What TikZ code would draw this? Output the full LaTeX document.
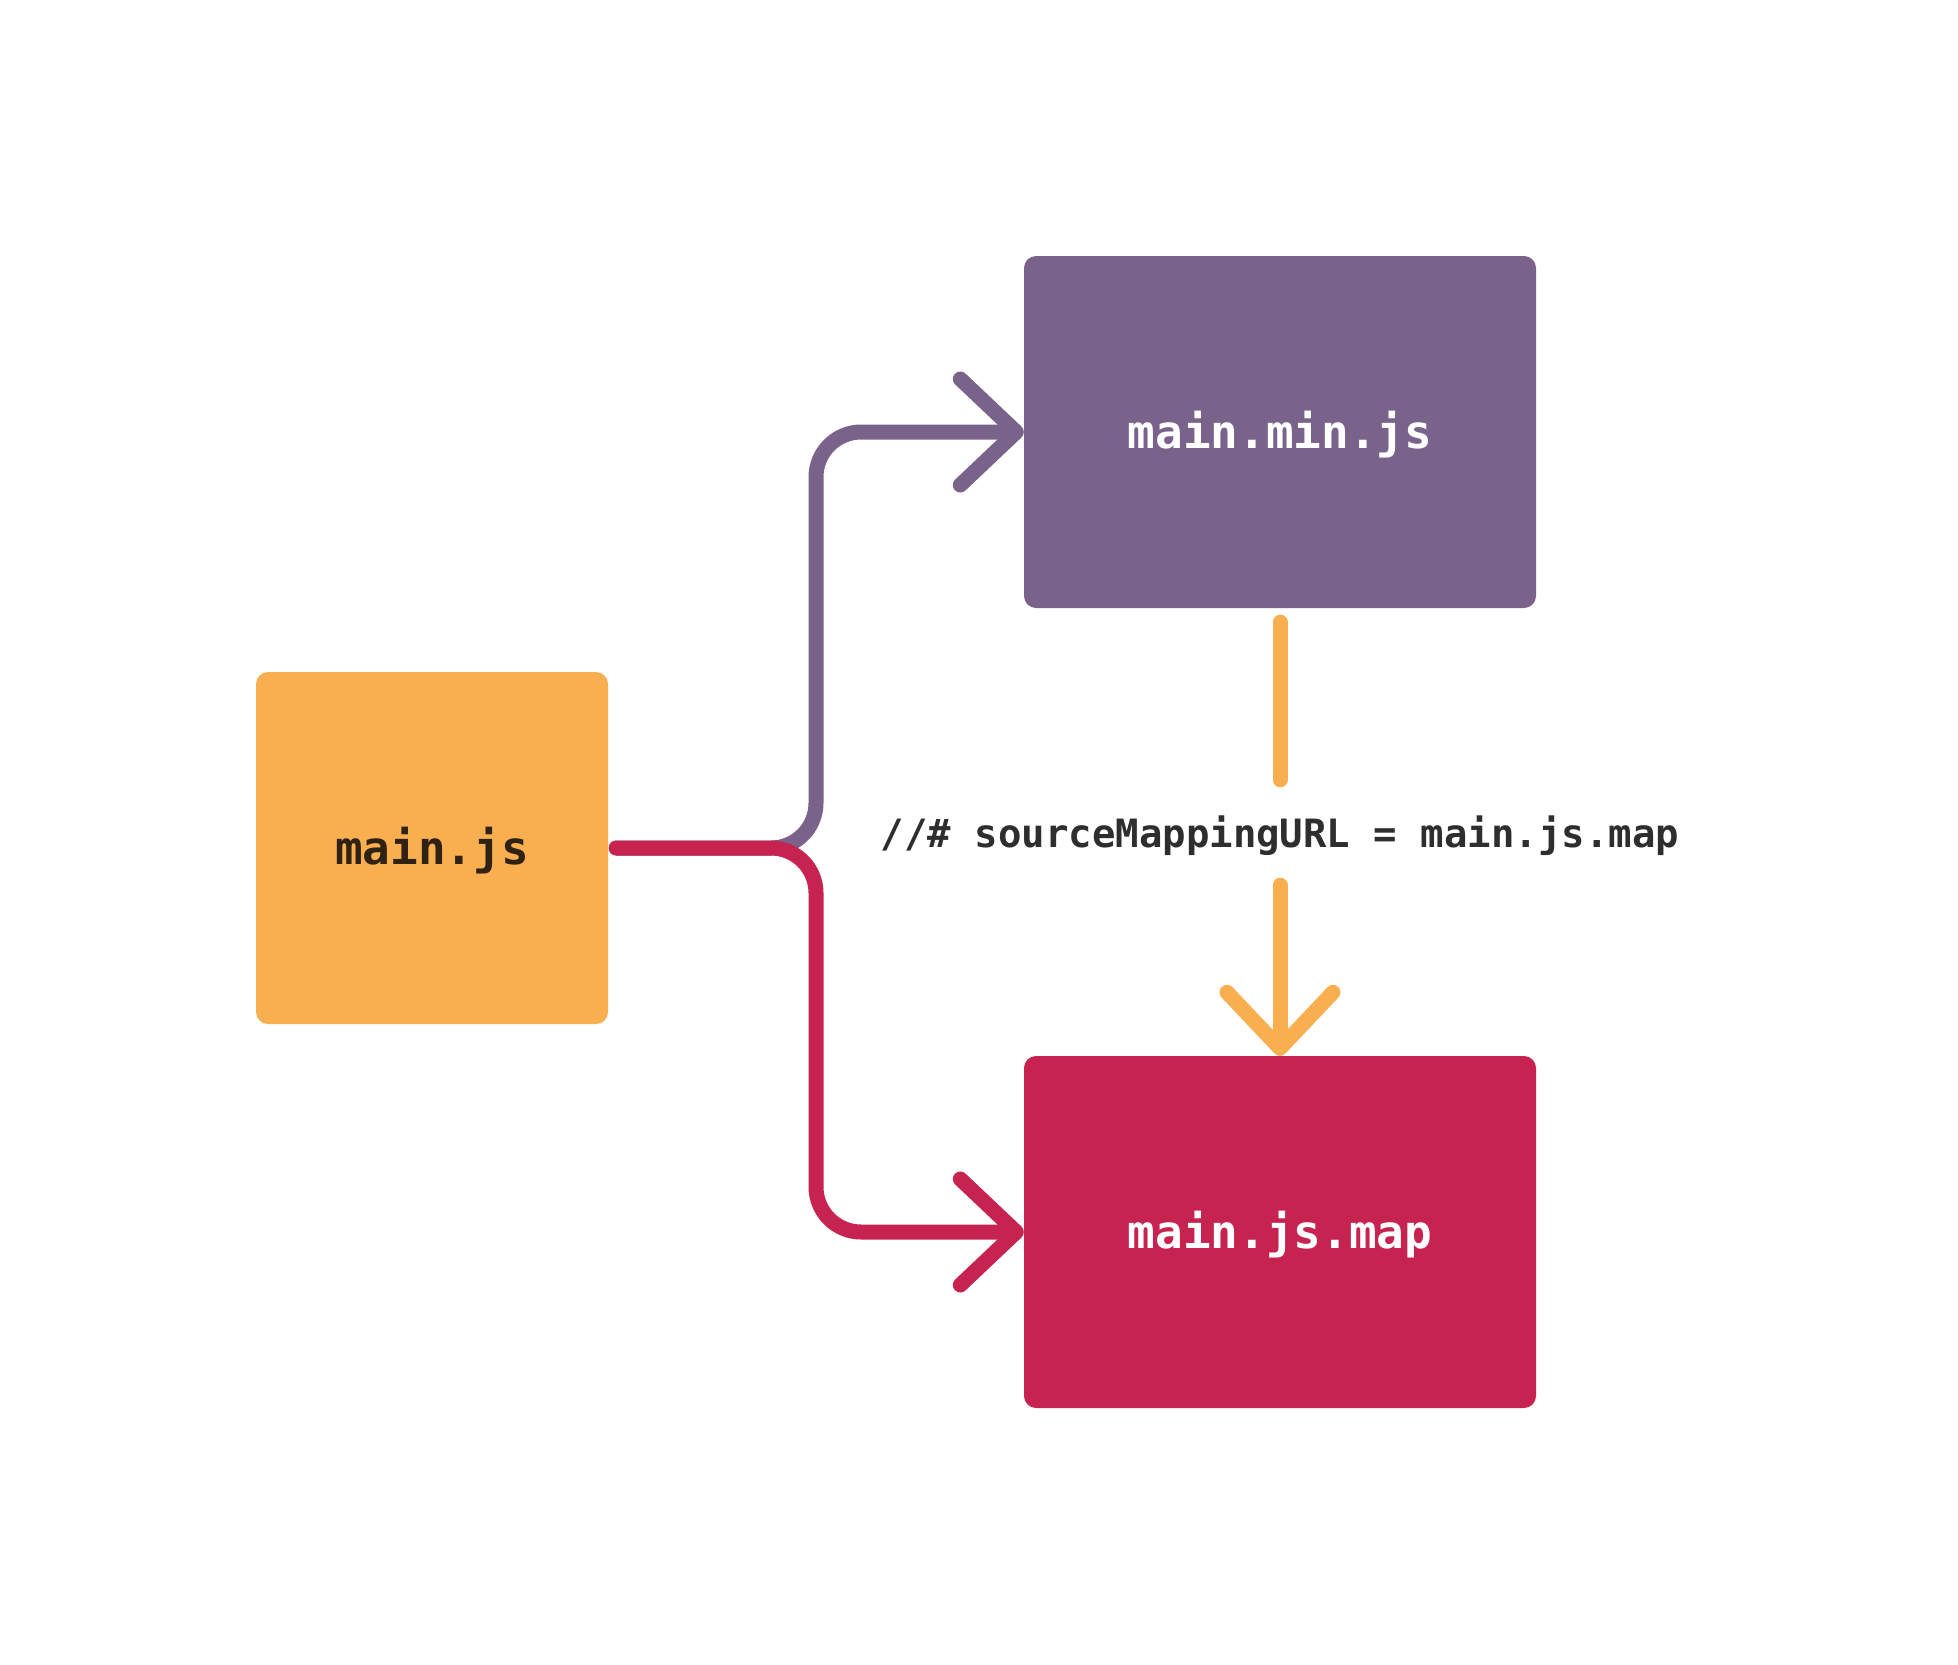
\documentclass[tikz,border=0pt]{standalone}
\usepackage{fontspec}
\setmonofont{DejaVu Sans Mono}
\usetikzlibrary{arrows.meta,calc}
\definecolor{cOrange}{HTML}{F9AF4F}
\definecolor{cPurple}{HTML}{7A638B}
\definecolor{cRed}{HTML}{C62350}
\definecolor{cDark}{HTML}{2F2213}
\definecolor{cText}{HTML}{2E2E2E}
\tikzset{
  filebox/.style={rounded corners=12pt, inner sep=0pt, minimum height=352pt,
    text height=32pt, text depth=0pt,
    font=\fontsize{46}{50}\selectfont\ttfamily\bfseries},
  conn/.style={line width=15pt, line cap=round, line join=round, rounded corners=45pt},
  barb/.style={-{Straight Barb[length=56pt,width=106pt,round]}},
}
\begin{document}
\begin{tikzpicture}[x=1pt,y=-1pt]
\useasboundingbox (0,0) rectangle (1958,1664);
\node[filebox, fill=cOrange, text=cDark, minimum width=352pt] (src) at (432,848) {main.js};
\node[filebox, fill=cPurple, text=white, minimum width=512pt] (min) at (1280,432) {main.min.js};
\node[filebox, fill=cRed, text=white, minimum width=512pt] (map) at (1280,1232) {main.js.map};
\node[inner sep=0pt, minimum height=60pt, text=cText,
  font=\fontsize{39}{44}\selectfont\ttfamily\bfseries] (lbl) at (1280,836) {//\# sourceMappingURL = main.js.map};
\coordinate (mx) at (816,0);
\draw[conn, cPurple, barb, shorten <=8pt] (src.east) -- (src.east -| mx) -- (min.west -| mx) -- (min.west);
\draw[conn, cRed, barb, shorten <=8pt] (src.east) -- (src.east -| mx) -- (map.west -| mx) -- (map.west);
\draw[conn, cOrange, shorten <=14pt, shorten >=26pt] (min.south) -- (lbl.north);
\draw[conn, cOrange, barb, shorten <=19pt] (lbl.south) -- (map.north);
\end{tikzpicture}
\end{document}
